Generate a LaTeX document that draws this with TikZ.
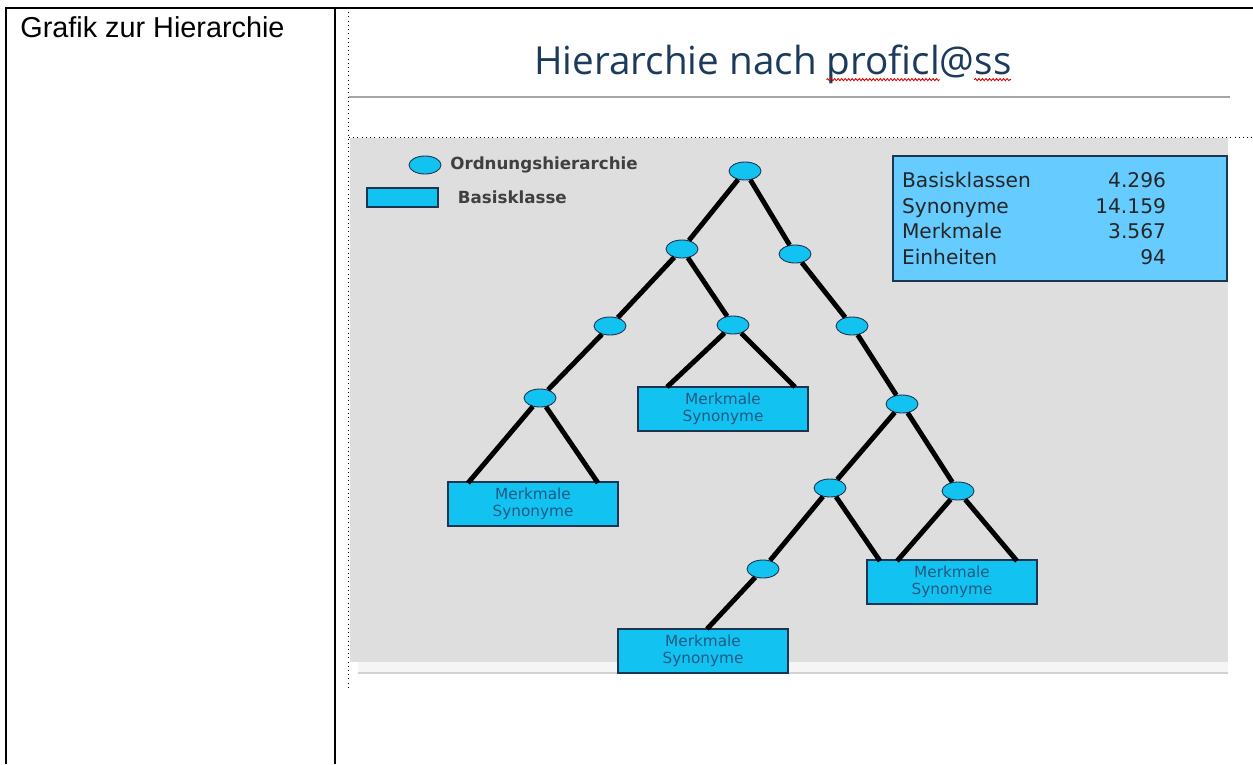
\documentclass[tikz,border=0pt]{standalone}
\usepackage{fontspec}
\setmainfont{Liberation Sans}
\newfontfamily\slidefont{Open Sans}
\newfontfamily\dejafont{DejaVu Sans}
\usetikzlibrary{shapes.geometric,positioning,decorations.pathmorphing}

\definecolor{panelgray}{HTML}{DEDEDE}
\definecolor{rulegray}{HTML}{A6A6A6}
\definecolor{nodecyan}{HTML}{12C3F2}
\definecolor{statblue}{HTML}{66CCFF}
\definecolor{framenavy}{HTML}{1C3550}
\definecolor{titleblue}{HTML}{1B3A5C}
\definecolor{labelblue}{HTML}{1F5A84}

\newcommand\titlesize{\slidefont\fontsize{22}{26}\selectfont}
\newlength\titlepre
\newlength\titleword
\newlength\titlegap
\newlength\titletail

\tikzset{
  ordnode/.style={ellipse, draw=framenavy, fill=nodecyan, line width=0.5pt,
    minimum width=0.64cm, minimum height=0.36cm, inner sep=0pt},
  classbox/.style={rectangle, draw=framenavy, fill=nodecyan, line width=0.7pt,
    minimum width=3.4cm, minimum height=0.88cm, align=center, text=labelblue,
    font=\dejafont\fontsize{8.7}{9.8}\selectfont},
  legendbox/.style={rectangle, draw=framenavy, fill=nodecyan, line width=0.7pt,
    minimum width=1.42cm, minimum height=0.38cm, inner sep=0pt},
  legendtext/.style={text=black!75, inner sep=0pt, font=\dejafont\bfseries\fontsize{9.5}{11}\selectfont},
  statbox/.style={rectangle, draw=framenavy, fill=statblue, line width=0.8pt,
    minimum width=6.68cm, minimum height=2.5cm, text width=6.32cm, inner xsep=0.18cm,
    align=left, text=black!85, font=\dejafont\fontsize{11.5}{14.7}\selectfont},
  branch/.style={line width=2.8pt, black},
  spellcheck/.style={red!85!black, line width=0.5pt,
    decorate, decoration={snake, segment length=2pt, amplitude=0.6pt}}
}

\begin{document}
\settowidth\titlepre{\titlesize Hierarchie nach\ }
\settowidth\titleword{\titlesize proficl}
\settowidth\titlegap{\titlesize @}
\settowidth\titletail{\titlesize ss}
\begin{tikzpicture}[x=0.02cm,y=-0.02cm]
  \useasboundingbox (0,0) rectangle (1253,764);
  % Table frame
  \draw[line width=1.1pt] (6,764) -- (6,8) -- (1253,8);
  \draw[line width=1.1pt] (335,8) -- (335,764);
  \node[anchor=base west, inner sep=0pt, font=\fontsize{16.4}{19}\selectfont] (caption) at (20,37) {Grafik zur Hierarchie};

  % Slide
  \draw[dotted] (348,8) -- (348,690);
  \node[anchor=base west, inner sep=0pt, text=titleblue, font=\titlesize] (title) at (534,74) {Hierarchie nach proficl@ss};
  \draw[spellcheck] ([xshift=\titlepre, yshift=-3.2pt]title.base west)
    -- ([xshift=\titlepre+\titleword, yshift=-3.2pt]title.base west);
  \draw[spellcheck] ([xshift=\titlepre+\titleword+\titlegap, yshift=-3.2pt]title.base west)
    -- ([xshift=\titlepre+\titleword+\titlegap+\titletail, yshift=-3.2pt]title.base west);
  \draw[rulegray, line width=1.7pt] (349,97) -- (1230,97);
  \fill[panelgray] (350,138) rectangle (1228,662);
  \draw[dotted] (349,137) -- (1253,137);
  \fill[black!4] (358,662) rectangle (1228,672);
  \draw[black!18, line width=1pt] (358,673) -- (1228,673);

  % Legend
  \node[ordnode] (legord) at (425,165) {};
  \node[legendtext, anchor=west, right=0.5cm of legord.center] (legordtext) {Ordnungshierarchie};
  \node[legendbox] (legbox) at (402.5,197.5) {};
  \node[legendtext, anchor=west, right=0.38cm of legbox.east] (legboxtext) {Basisklasse};

  % Statistics
  \node[statbox] (stats) at (1060,218.5) {%
    \makebox[5.28cm][l]{Basisklassen\hfill 4.296}\\
    \makebox[5.28cm][l]{Synonyme\hfill 14.159}\\
    \makebox[5.28cm][l]{Merkmale\hfill 3.567}\\
    \makebox[5.28cm][l]{Einheiten\hfill 94}};

  % Define nodes
  \node[ordnode] (h1) at (745,171) {};
  \node[ordnode] (h2) at (682,249) {};
  \node[ordnode] (h3) at (795,254) {};
  \node[ordnode] (h4) at (610,326) {};
  \node[ordnode] (h5) at (733,325) {};
  \node[ordnode] (h6) at (852,326) {};
  \node[ordnode] (h7) at (540,398) {};
  \node[ordnode] (h8) at (902,404) {};
  \node[ordnode] (h9) at (830,488) {};
  \node[ordnode] (h10) at (958,491) {};
  \node[ordnode] (h11) at (763,569) {};

  \node[classbox] (k1) at (533,504) {Merkmale\\Synonyme};
  \node[classbox] (k2) at (723,409) {Merkmale\\Synonyme};
  \node[classbox] (k3) at (952,582) {Merkmale\\Synonyme};
  \node[classbox] (k4) at (703,651) {Merkmale\\Synonyme};

  \coordinate (k1a) at (468,483);
  \coordinate (k1b) at (598,483);
  \coordinate (k2a) at (667,387);
  \coordinate (k2b) at (795,387);
  \coordinate (k3a) at (880,561);
  \coordinate (k3b) at (897,561);
  \coordinate (k3c) at (1017,561);
  \coordinate (k4a) at (707,629);

  % Connect nodes
  \draw[branch] (h1) -- (h2);
  \draw[branch] (h1) -- (h3);
  \draw[branch] (h2) -- (h4);
  \draw[branch] (h2) -- (h5);
  \draw[branch] (h4) -- (h7);
  \draw[branch] (h3) -- (h6);
  \draw[branch] (h6) -- (h8);
  \draw[branch] (h8) -- (h9);
  \draw[branch] (h8) -- (h10);
  \draw[branch] (h9) -- (h11);
  \draw[branch] (h7) -- (k1a);
  \draw[branch] (h7) -- (k1b);
  \draw[branch] (h5) -- (k2a);
  \draw[branch] (h5) -- (k2b);
  \draw[branch] (h9) -- (k3a);
  \draw[branch] (h10) -- (k3b);
  \draw[branch] (h10) -- (k3c);
  \draw[branch] (h11) -- (k4a);
\end{tikzpicture}
\end{document}
